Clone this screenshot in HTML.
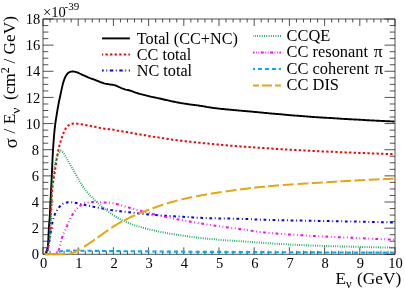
<!DOCTYPE html>
<html><head><meta charset="utf-8"><title>plot</title>
<style>html,body{margin:0;padding:0;background:#fff}svg{display:block;will-change:transform}text{font-family:"Liberation Serif",serif;fill:#000}</style></head><body>
<svg width="405" height="289" viewBox="0 0 405 289">
<rect width="405" height="289" fill="#fff"/>
<clipPath id="c"><rect x="43.0" y="19.0" width="352.0" height="236.5"/></clipPath>
<path d="M43.0,19.0 H395.0 V254.3 H43.0 Z M43.00,254.3 v-7.0 M43.00,19.0 v7.0 M50.04,254.3 v-3.5 M50.04,19.0 v3.5 M57.08,254.3 v-3.5 M57.08,19.0 v3.5 M64.12,254.3 v-3.5 M64.12,19.0 v3.5 M71.16,254.3 v-3.5 M71.16,19.0 v3.5 M78.20,254.3 v-7.0 M78.20,19.0 v7.0 M85.24,254.3 v-3.5 M85.24,19.0 v3.5 M92.28,254.3 v-3.5 M92.28,19.0 v3.5 M99.32,254.3 v-3.5 M99.32,19.0 v3.5 M106.36,254.3 v-3.5 M106.36,19.0 v3.5 M113.40,254.3 v-7.0 M113.40,19.0 v7.0 M120.44,254.3 v-3.5 M120.44,19.0 v3.5 M127.48,254.3 v-3.5 M127.48,19.0 v3.5 M134.52,254.3 v-3.5 M134.52,19.0 v3.5 M141.56,254.3 v-3.5 M141.56,19.0 v3.5 M148.60,254.3 v-7.0 M148.60,19.0 v7.0 M155.64,254.3 v-3.5 M155.64,19.0 v3.5 M162.68,254.3 v-3.5 M162.68,19.0 v3.5 M169.72,254.3 v-3.5 M169.72,19.0 v3.5 M176.76,254.3 v-3.5 M176.76,19.0 v3.5 M183.80,254.3 v-7.0 M183.80,19.0 v7.0 M190.84,254.3 v-3.5 M190.84,19.0 v3.5 M197.88,254.3 v-3.5 M197.88,19.0 v3.5 M204.92,254.3 v-3.5 M204.92,19.0 v3.5 M211.96,254.3 v-3.5 M211.96,19.0 v3.5 M219.00,254.3 v-7.0 M219.00,19.0 v7.0 M226.04,254.3 v-3.5 M226.04,19.0 v3.5 M233.08,254.3 v-3.5 M233.08,19.0 v3.5 M240.12,254.3 v-3.5 M240.12,19.0 v3.5 M247.16,254.3 v-3.5 M247.16,19.0 v3.5 M254.20,254.3 v-7.0 M254.20,19.0 v7.0 M261.24,254.3 v-3.5 M261.24,19.0 v3.5 M268.28,254.3 v-3.5 M268.28,19.0 v3.5 M275.32,254.3 v-3.5 M275.32,19.0 v3.5 M282.36,254.3 v-3.5 M282.36,19.0 v3.5 M289.40,254.3 v-7.0 M289.40,19.0 v7.0 M296.44,254.3 v-3.5 M296.44,19.0 v3.5 M303.48,254.3 v-3.5 M303.48,19.0 v3.5 M310.52,254.3 v-3.5 M310.52,19.0 v3.5 M317.56,254.3 v-3.5 M317.56,19.0 v3.5 M324.60,254.3 v-7.0 M324.60,19.0 v7.0 M331.64,254.3 v-3.5 M331.64,19.0 v3.5 M338.68,254.3 v-3.5 M338.68,19.0 v3.5 M345.72,254.3 v-3.5 M345.72,19.0 v3.5 M352.76,254.3 v-3.5 M352.76,19.0 v3.5 M359.80,254.3 v-7.0 M359.80,19.0 v7.0 M366.84,254.3 v-3.5 M366.84,19.0 v3.5 M373.88,254.3 v-3.5 M373.88,19.0 v3.5 M380.92,254.3 v-3.5 M380.92,19.0 v3.5 M387.96,254.3 v-3.5 M387.96,19.0 v3.5 M395.00,254.3 v-7.0 M395.00,19.0 v7.0 M43.0,254.30 h10.5 M395.0,254.30 h-10.5 M43.0,247.76 h5.3 M395.0,247.76 h-5.3 M43.0,241.23 h5.3 M395.0,241.23 h-5.3 M43.0,234.69 h5.3 M395.0,234.69 h-5.3 M43.0,228.16 h10.5 M395.0,228.16 h-10.5 M43.0,221.62 h5.3 M395.0,221.62 h-5.3 M43.0,215.08 h5.3 M395.0,215.08 h-5.3 M43.0,208.55 h5.3 M395.0,208.55 h-5.3 M43.0,202.01 h10.5 M395.0,202.01 h-10.5 M43.0,195.47 h5.3 M395.0,195.47 h-5.3 M43.0,188.94 h5.3 M395.0,188.94 h-5.3 M43.0,182.40 h5.3 M395.0,182.40 h-5.3 M43.0,175.87 h10.5 M395.0,175.87 h-10.5 M43.0,169.33 h5.3 M395.0,169.33 h-5.3 M43.0,162.79 h5.3 M395.0,162.79 h-5.3 M43.0,156.26 h5.3 M395.0,156.26 h-5.3 M43.0,149.72 h10.5 M395.0,149.72 h-10.5 M43.0,143.19 h5.3 M395.0,143.19 h-5.3 M43.0,136.65 h5.3 M395.0,136.65 h-5.3 M43.0,130.11 h5.3 M395.0,130.11 h-5.3 M43.0,123.58 h10.5 M395.0,123.58 h-10.5 M43.0,117.04 h5.3 M395.0,117.04 h-5.3 M43.0,110.51 h5.3 M395.0,110.51 h-5.3 M43.0,103.97 h5.3 M395.0,103.97 h-5.3 M43.0,97.43 h10.5 M395.0,97.43 h-10.5 M43.0,90.90 h5.3 M395.0,90.90 h-5.3 M43.0,84.36 h5.3 M395.0,84.36 h-5.3 M43.0,77.82 h5.3 M395.0,77.82 h-5.3 M43.0,71.29 h10.5 M395.0,71.29 h-10.5 M43.0,64.75 h5.3 M395.0,64.75 h-5.3 M43.0,58.22 h5.3 M395.0,58.22 h-5.3 M43.0,51.68 h5.3 M395.0,51.68 h-5.3 M43.0,45.14 h10.5 M395.0,45.14 h-10.5 M43.0,38.61 h5.3 M395.0,38.61 h-5.3 M43.0,32.07 h5.3 M395.0,32.07 h-5.3 M43.0,25.54 h5.3 M395.0,25.54 h-5.3 M43.0,19.00 h10.5 M395.0,19.00 h-10.5" fill="none" stroke="#1a1a1a" stroke-width="0.75"/>
<g clip-path="url(#c)" fill="none" stroke-linecap="butt" stroke-linejoin="round">
<path d="M45.30,254.30 L45.72,253.35 L46.11,252.39 L46.46,251.42 L46.78,250.43 L47.10,249.44 L47.40,248.44 L47.66,247.43 L47.85,246.42 L47.96,245.41 L48.05,244.38 L48.13,243.35 L48.19,242.32 L48.25,241.29 L48.30,240.25 L48.35,239.21 L48.39,238.17 L48.44,237.13 L48.49,236.10 L48.55,235.06 L48.60,234.03 L48.65,232.99 L48.70,231.96 L48.74,230.92 L48.79,229.89 L48.84,228.86 L48.90,227.82 L48.95,226.79 L49.02,225.76 L49.09,224.72 L49.17,223.69 L49.25,222.66 L49.35,221.63 L49.44,220.60 L49.53,219.56 L49.62,218.53 L49.70,217.50 L49.77,216.47 L49.83,215.43 L49.89,214.40 L49.95,213.37 L50.00,212.33 L50.05,211.30 L50.09,210.27 L50.14,209.23 L50.18,208.20 L50.23,207.16 L50.27,206.13 L50.31,205.09 L50.36,204.06 L50.40,203.02 L50.45,201.99 L50.50,200.96 L50.55,199.92 L50.61,198.89 L50.66,197.85 L50.72,196.82 L50.77,195.79 L50.83,194.75 L50.88,193.72 L50.94,192.68 L51.00,191.65 L51.05,190.62 L51.11,189.58 L51.17,188.55 L51.22,187.52 L51.28,186.48 L51.33,185.45 L51.38,184.41 L51.43,183.38 L51.49,182.35 L51.54,181.31 L51.59,180.28 L51.64,179.24 L51.69,178.21 L51.74,177.18 L51.78,176.14 L51.83,175.11 L51.87,174.07 L51.92,173.04 L51.96,172.00 L52.00,170.97 L52.05,169.93 L52.09,168.90 L52.13,167.87 L52.17,166.83 L52.21,165.80 L52.26,164.76 L52.30,163.73 L52.34,162.69 L52.39,161.66 L52.44,160.62 L52.49,159.59 L52.54,158.56 L52.59,157.52 L52.64,156.49 L52.70,155.46 L52.75,154.42 L52.81,153.39 L52.87,152.35 L52.93,151.32 L53.00,150.29 L53.06,149.25 L53.12,148.22 L53.19,147.19 L53.26,146.15 L53.33,145.12 L53.40,144.09 L53.47,143.05 L53.55,142.02 L53.63,140.99 L53.70,139.96 L53.78,138.93 L53.86,137.89 L53.95,136.86 L54.04,135.83 L54.12,134.80 L54.22,133.77 L54.31,132.73 L54.41,131.70 L54.51,130.67 L54.61,129.64 L54.72,128.61 L54.83,127.58 L54.95,126.56 L55.07,125.53 L55.20,124.50 L55.33,123.48 L55.47,122.45 L55.62,121.43 L55.78,120.40 L55.94,119.38 L56.10,118.36 L56.26,117.33 L56.43,116.31 L56.59,115.29 L56.76,114.27 L56.92,113.24 L57.09,112.22 L57.26,111.20 L57.43,110.18 L57.60,109.16 L57.78,108.14 L57.95,107.12 L58.14,106.10 L58.32,105.08 L58.51,104.06 L58.70,103.04 L58.89,102.03 L59.10,101.01 L59.31,100.00 L59.53,98.99 L59.75,97.97 L59.97,96.96 L60.19,95.95 L60.41,94.94 L60.63,93.93 L60.85,92.92 L61.06,91.90 L61.28,90.89 L61.50,89.88 L61.73,88.87 L61.96,87.86 L62.18,86.85 L62.41,85.84 L62.66,84.83 L62.91,83.83 L63.19,82.83 L63.48,81.84 L63.79,80.85 L64.13,79.87 L64.49,78.90 L64.88,77.94 L65.31,76.99 L65.77,76.07 L66.30,75.17 L66.88,74.32 L67.55,73.52 L68.30,72.82 L69.18,72.26 L70.13,71.83 L71.13,71.59 L72.16,71.51 L73.20,71.54 L74.22,71.67 L75.24,71.85 L76.25,72.11 L77.24,72.41 L78.19,72.80 L79.12,73.27 L80.05,73.73 L80.99,74.16 L81.93,74.60 L82.87,75.04 L83.81,75.47 L84.75,75.90 L85.70,76.32 L86.65,76.74 L87.60,77.15 L88.55,77.56 L89.51,77.95 L90.47,78.33 L91.44,78.68 L92.42,79.01 L93.41,79.34 L94.39,79.67 L95.37,80.01 L96.33,80.39 L97.28,80.79 L98.24,81.20 L99.19,81.61 L100.15,82.00 L101.12,82.35 L102.10,82.69 L103.08,83.03 L104.07,83.34 L105.07,83.61 L106.08,83.84 L107.09,84.02 L108.11,84.18 L109.14,84.32 L110.17,84.46 L111.20,84.62 L112.22,84.76 L113.25,84.92 L114.26,85.11 L115.25,85.40 L116.22,85.76 L117.18,86.17 L118.13,86.59 L119.08,87.01 L120.01,87.46 L120.96,87.88 L121.92,88.27 L122.89,88.63 L123.86,88.98 L124.85,89.30 L125.84,89.58 L126.85,89.82 L127.87,90.04 L128.88,90.26 L129.88,90.51 L130.87,90.80 L131.85,91.14 L132.81,91.52 L133.77,91.92 L134.74,92.29 L135.71,92.64 L136.70,92.95 L137.69,93.25 L138.69,93.54 L139.68,93.82 L140.68,94.10 L141.68,94.36 L142.69,94.61 L143.69,94.86 L144.70,95.10 L145.70,95.35 L146.71,95.60 L147.71,95.86 L148.71,96.12 L149.72,96.37 L150.72,96.61 L151.73,96.84 L152.74,97.06 L153.76,97.27 L154.77,97.48 L155.79,97.69 L156.80,97.91 L157.81,98.12 L158.83,98.33 L159.84,98.55 L160.85,98.77 L161.86,98.99 L162.87,99.23 L163.88,99.47 L164.88,99.71 L165.89,99.96 L166.90,100.20 L167.90,100.44 L168.91,100.67 L169.92,100.90 L170.93,101.11 L171.95,101.33 L172.96,101.53 L173.98,101.74 L174.99,101.94 L176.01,102.14 L177.03,102.34 L178.04,102.53 L179.06,102.71 L180.08,102.89 L181.10,103.07 L182.12,103.24 L183.14,103.41 L184.17,103.57 L185.19,103.73 L186.21,103.89 L187.24,104.04 L188.26,104.19 L189.29,104.34 L190.31,104.49 L191.34,104.63 L192.36,104.77 L193.39,104.91 L194.41,105.04 L195.44,105.17 L196.47,105.29 L197.50,105.42 L198.52,105.56 L199.55,105.69 L200.58,105.84 L201.60,105.99 L202.62,106.16 L203.64,106.33 L204.66,106.51 L205.68,106.70 L206.70,106.88 L207.72,107.07 L208.74,107.24 L209.76,107.40 L210.78,107.56 L211.81,107.70 L212.83,107.84 L213.86,107.98 L214.89,108.11 L215.91,108.24 L216.94,108.37 L217.97,108.49 L219.00,108.61 L220.03,108.73 L221.06,108.84 L222.09,108.95 L223.12,109.05 L224.15,109.15 L225.18,109.25 L226.21,109.35 L227.24,109.44 L228.27,109.54 L229.30,109.63 L230.33,109.73 L231.36,109.82 L232.39,109.92 L233.43,110.02 L234.46,110.11 L235.49,110.21 L236.52,110.30 L237.55,110.39 L238.58,110.49 L239.61,110.58 L240.64,110.67 L241.67,110.76 L242.71,110.85 L243.74,110.93 L244.77,111.02 L245.80,111.11 L246.83,111.19 L247.86,111.28 L248.90,111.37 L249.93,111.46 L250.96,111.55 L251.99,111.65 L253.02,111.75 L254.05,111.84 L255.08,111.95 L256.11,112.05 L257.14,112.15 L258.17,112.25 L259.20,112.35 L260.23,112.45 L261.26,112.55 L262.29,112.66 L263.32,112.76 L264.35,112.86 L265.38,112.96 L266.41,113.06 L267.45,113.16 L268.48,113.26 L269.51,113.36 L270.54,113.45 L271.57,113.54 L272.60,113.63 L273.63,113.71 L274.66,113.79 L275.70,113.87 L276.73,113.95 L277.76,114.03 L278.79,114.12 L279.83,114.20 L280.86,114.29 L281.89,114.38 L282.92,114.48 L283.95,114.58 L284.98,114.68 L286.01,114.78 L287.04,114.89 L288.07,114.99 L289.10,115.08 L290.13,115.18 L291.16,115.26 L292.20,115.35 L293.23,115.43 L294.26,115.51 L295.29,115.59 L296.32,115.67 L297.36,115.75 L298.39,115.82 L299.42,115.90 L300.45,115.98 L301.49,116.06 L302.52,116.14 L303.55,116.22 L304.58,116.30 L305.62,116.38 L306.65,116.46 L307.68,116.54 L308.71,116.62 L309.74,116.70 L310.78,116.78 L311.81,116.85 L312.84,116.93 L313.87,117.01 L314.91,117.08 L315.94,117.16 L316.97,117.23 L318.00,117.30 L319.04,117.37 L320.07,117.44 L321.10,117.51 L322.14,117.57 L323.17,117.62 L324.21,117.68 L325.24,117.73 L326.27,117.78 L327.31,117.83 L328.34,117.89 L329.38,117.94 L330.41,118.00 L331.44,118.06 L332.48,118.13 L333.51,118.20 L334.54,118.27 L335.57,118.35 L336.61,118.42 L337.64,118.49 L338.67,118.57 L339.70,118.64 L340.74,118.70 L341.77,118.77 L342.80,118.83 L343.84,118.89 L344.87,118.95 L345.91,119.01 L346.94,119.07 L347.97,119.13 L349.01,119.19 L350.04,119.24 L351.07,119.30 L352.11,119.35 L353.14,119.40 L354.18,119.46 L355.21,119.50 L356.24,119.55 L357.28,119.61 L358.31,119.66 L359.35,119.71 L360.38,119.77 L361.41,119.84 L362.45,119.90 L363.48,119.98 L364.51,120.05 L365.54,120.12 L366.58,120.19 L367.61,120.25 L368.64,120.31 L369.68,120.37 L370.71,120.42 L371.75,120.47 L372.78,120.52 L373.81,120.57 L374.85,120.62 L375.88,120.67 L376.92,120.72 L377.95,120.76 L378.99,120.81 L380.02,120.86 L381.05,120.92 L382.09,120.97 L383.12,121.02 L384.16,121.07 L385.19,121.12 L386.22,121.17 L387.26,121.22 L388.29,121.27 L389.33,121.31 L390.36,121.35 L391.40,121.39 L392.43,121.43 L393.47,121.46 L394.50,121.50" stroke="#000000" stroke-width="1.9"/>
<path d="M45.80,254.30 L46.22,253.47 L46.61,252.63 L46.96,251.77 L47.27,250.91 L47.52,250.03 L47.75,249.14 L47.96,248.23 L48.15,247.33 L48.32,246.42 L48.49,245.51 L48.65,244.60 L48.81,243.69 L48.96,242.78 L49.10,241.87 L49.24,240.95 L49.36,240.04 L49.48,239.12 L49.58,238.20 L49.67,237.29 L49.75,236.37 L49.83,235.45 L49.90,234.53 L49.97,233.61 L50.04,232.69 L50.10,231.76 L50.15,230.84 L50.20,229.92 L50.25,229.00 L50.30,228.08 L50.34,227.16 L50.38,226.23 L50.42,225.31 L50.46,224.39 L50.50,223.47 L50.53,222.54 L50.57,221.62 L50.60,220.70 L50.64,219.78 L50.67,218.85 L50.71,217.93 L50.75,217.01 L50.80,216.09 L50.84,215.16 L50.89,214.24 L50.94,213.32 L50.99,212.40 L51.04,211.48 L51.09,210.56 L51.14,209.63 L51.19,208.71 L51.25,207.79 L51.30,206.87 L51.35,205.95 L51.40,205.03 L51.45,204.10 L51.49,203.18 L51.54,202.26 L51.58,201.34 L51.62,200.41 L51.66,199.49 L51.70,198.57 L51.75,197.64 L51.79,196.72 L51.84,195.80 L51.88,194.88 L51.94,193.96 L51.99,193.03 L52.05,192.11 L52.11,191.19 L52.18,190.28 L52.25,189.36 L52.35,188.44 L52.45,187.52 L52.57,186.61 L52.69,185.69 L52.82,184.78 L52.96,183.86 L53.09,182.95 L53.22,182.03 L53.35,181.12 L53.49,180.21 L53.62,179.29 L53.76,178.38 L53.91,177.47 L54.05,176.56 L54.20,175.65 L54.35,174.74 L54.50,173.83 L54.64,172.91 L54.79,172.00 L54.94,171.09 L55.08,170.18 L55.22,169.27 L55.36,168.35 L55.49,167.44 L55.62,166.53 L55.75,165.61 L55.88,164.70 L56.01,163.78 L56.14,162.87 L56.27,161.96 L56.41,161.04 L56.55,160.13 L56.69,159.22 L56.83,158.31 L56.98,157.40 L57.14,156.49 L57.30,155.58 L57.47,154.67 L57.64,153.76 L57.81,152.85 L57.99,151.95 L58.17,151.04 L58.36,150.14 L58.56,149.24 L58.76,148.34 L58.97,147.44 L59.19,146.54 L59.42,145.65 L59.66,144.76 L59.90,143.87 L60.14,142.97 L60.39,142.08 L60.64,141.19 L60.89,140.31 L61.16,139.43 L61.45,138.55 L61.76,137.68 L62.08,136.81 L62.41,135.95 L62.72,135.07 L63.04,134.20 L63.36,133.32 L63.69,132.46 L64.04,131.61 L64.42,130.77 L64.82,129.96 L65.27,129.15 L65.76,128.34 L66.30,127.56 L66.87,126.84 L67.50,126.21 L68.20,125.61 L68.98,125.05 L69.80,124.58 L70.63,124.26 L71.50,124.00 L72.41,123.77 L73.34,123.60 L74.27,123.51 L75.18,123.51 L76.09,123.56 L77.01,123.64 L77.93,123.75 L78.85,123.88 L79.77,124.03 L80.68,124.18 L81.60,124.32 L82.51,124.46 L83.42,124.62 L84.33,124.79 L85.23,124.97 L86.14,125.15 L87.05,125.32 L87.95,125.49 L88.86,125.66 L89.77,125.83 L90.68,126.00 L91.59,126.16 L92.49,126.33 L93.40,126.49 L94.31,126.66 L95.21,126.84 L96.12,127.04 L97.01,127.26 L97.91,127.47 L98.81,127.67 L99.72,127.86 L100.62,128.05 L101.53,128.23 L102.43,128.40 L103.35,128.55 L104.26,128.68 L105.17,128.79 L106.09,128.90 L107.01,129.00 L107.93,129.09 L108.85,129.18 L109.77,129.25 L110.69,129.32 L111.61,129.40 L112.52,129.50 L113.43,129.66 L114.33,129.88 L115.22,130.12 L116.12,130.35 L117.02,130.54 L117.93,130.70 L118.84,130.85 L119.75,131.00 L120.67,131.13 L121.58,131.27 L122.49,131.40 L123.41,131.52 L124.32,131.64 L125.24,131.77 L126.15,131.92 L127.06,132.08 L127.97,132.24 L128.88,132.41 L129.78,132.58 L130.69,132.76 L131.59,132.94 L132.50,133.13 L133.40,133.32 L134.30,133.50 L135.21,133.67 L136.12,133.83 L137.03,133.99 L137.94,134.14 L138.85,134.29 L139.76,134.44 L140.68,134.58 L141.59,134.72 L142.50,134.87 L143.41,135.02 L144.32,135.18 L145.23,135.34 L146.14,135.50 L147.05,135.67 L147.95,135.83 L148.86,135.99 L149.77,136.15 L150.68,136.32 L151.59,136.47 L152.50,136.62 L153.42,136.75 L154.33,136.87 L155.25,136.99 L156.16,137.11 L157.08,137.24 L157.99,137.38 L158.90,137.52 L159.81,137.66 L160.72,137.81 L161.64,137.95 L162.55,138.11 L163.46,138.26 L164.37,138.42 L165.28,138.57 L166.19,138.72 L167.10,138.86 L168.01,139.00 L168.93,139.13 L169.84,139.26 L170.75,139.39 L171.67,139.52 L172.58,139.64 L173.50,139.77 L174.41,139.89 L175.33,140.01 L176.24,140.13 L177.16,140.25 L178.07,140.36 L178.99,140.48 L179.91,140.59 L180.82,140.70 L181.74,140.81 L182.66,140.92 L183.57,141.03 L184.49,141.14 L185.41,141.25 L186.32,141.35 L187.24,141.45 L188.16,141.56 L189.08,141.66 L189.99,141.76 L190.91,141.86 L191.83,141.96 L192.75,142.05 L193.67,142.15 L194.58,142.25 L195.50,142.34 L196.42,142.43 L197.34,142.53 L198.26,142.62 L199.17,142.72 L200.09,142.81 L201.01,142.90 L201.93,142.99 L202.85,143.09 L203.77,143.18 L204.69,143.27 L205.60,143.36 L206.52,143.45 L207.44,143.53 L208.36,143.62 L209.28,143.71 L210.20,143.80 L211.12,143.88 L212.04,143.97 L212.96,144.05 L213.88,144.14 L214.80,144.23 L215.71,144.31 L216.63,144.39 L217.55,144.48 L218.47,144.56 L219.39,144.65 L220.31,144.73 L221.23,144.81 L222.15,144.90 L223.07,144.98 L223.99,145.06 L224.91,145.15 L225.83,145.23 L226.75,145.31 L227.67,145.39 L228.59,145.47 L229.51,145.55 L230.43,145.63 L231.35,145.70 L232.27,145.78 L233.19,145.85 L234.11,145.93 L235.03,146.00 L235.95,146.07 L236.87,146.15 L237.79,146.22 L238.71,146.29 L239.63,146.36 L240.55,146.43 L241.47,146.50 L242.39,146.57 L243.31,146.64 L244.23,146.71 L245.15,146.77 L246.07,146.84 L246.99,146.91 L247.91,146.98 L248.83,147.04 L249.75,147.11 L250.67,147.17 L251.60,147.24 L252.52,147.30 L253.44,147.37 L254.36,147.43 L255.28,147.50 L256.20,147.56 L257.12,147.62 L258.04,147.69 L258.96,147.75 L259.88,147.81 L260.81,147.87 L261.73,147.93 L262.65,148.00 L263.57,148.06 L264.49,148.12 L265.41,148.18 L266.33,148.24 L267.25,148.30 L268.17,148.36 L269.10,148.42 L270.02,148.47 L270.94,148.53 L271.86,148.59 L272.78,148.65 L273.70,148.71 L274.62,148.77 L275.54,148.82 L276.47,148.88 L277.39,148.94 L278.31,148.99 L279.23,149.05 L280.15,149.11 L281.07,149.16 L281.99,149.22 L282.92,149.28 L283.84,149.33 L284.76,149.39 L285.68,149.44 L286.60,149.50 L287.52,149.55 L288.44,149.61 L289.37,149.66 L290.29,149.72 L291.21,149.77 L292.13,149.82 L293.05,149.88 L293.97,149.93 L294.90,149.98 L295.82,150.04 L296.74,150.09 L297.66,150.14 L298.58,150.19 L299.50,150.24 L300.43,150.29 L301.35,150.34 L302.27,150.39 L303.19,150.44 L304.11,150.49 L305.03,150.54 L305.96,150.59 L306.88,150.64 L307.80,150.69 L308.72,150.73 L309.64,150.78 L310.57,150.83 L311.49,150.88 L312.41,150.92 L313.33,150.97 L314.25,151.01 L315.18,151.06 L316.10,151.10 L317.02,151.15 L317.94,151.19 L318.86,151.23 L319.79,151.28 L320.71,151.32 L321.63,151.36 L322.55,151.40 L323.47,151.45 L324.40,151.49 L325.32,151.53 L326.24,151.57 L327.16,151.61 L328.08,151.65 L329.01,151.69 L329.93,151.73 L330.85,151.77 L331.77,151.81 L332.70,151.85 L333.62,151.89 L334.54,151.93 L335.46,151.97 L336.39,152.01 L337.31,152.05 L338.23,152.09 L339.15,152.12 L340.07,152.16 L341.00,152.20 L341.92,152.24 L342.84,152.28 L343.76,152.31 L344.69,152.35 L345.61,152.39 L346.53,152.42 L347.45,152.46 L348.38,152.50 L349.30,152.54 L350.22,152.57 L351.14,152.61 L352.07,152.64 L352.99,152.68 L353.91,152.72 L354.83,152.75 L355.76,152.79 L356.68,152.83 L357.60,152.86 L358.52,152.90 L359.44,152.93 L360.37,152.97 L361.29,153.01 L362.21,153.04 L363.13,153.08 L364.06,153.11 L364.98,153.15 L365.90,153.18 L366.82,153.22 L367.75,153.25 L368.67,153.29 L369.59,153.32 L370.51,153.35 L371.44,153.39 L372.36,153.42 L373.28,153.46 L374.20,153.49 L375.13,153.52 L376.05,153.56 L376.97,153.59 L377.89,153.62 L378.82,153.66 L379.74,153.69 L380.66,153.72 L381.58,153.76 L382.51,153.79 L383.43,153.82 L384.35,153.85 L385.27,153.89 L386.20,153.92 L387.12,153.95 L388.04,153.98 L388.96,154.01 L389.89,154.04 L390.81,154.08 L391.73,154.11 L392.65,154.14 L393.58,154.17 L394.50,154.20" stroke="#ff0000" stroke-width="2.0" stroke-dasharray="2.3 2.28" stroke-dashoffset="1.52"/>
<path d="M46.20,254.30 L46.44,253.56 L46.66,252.81 L46.88,252.07 L47.08,251.32 L47.27,250.57 L47.44,249.81 L47.59,249.05 L47.73,248.29 L47.86,247.52 L47.99,246.75 L48.12,245.99 L48.26,245.22 L48.41,244.46 L48.57,243.70 L48.74,242.95 L48.91,242.19 L49.09,241.43 L49.26,240.68 L49.42,239.92 L49.58,239.16 L49.74,238.40 L49.90,237.64 L50.05,236.88 L50.20,236.11 L50.34,235.35 L50.47,234.58 L50.58,233.82 L50.69,233.05 L50.79,232.28 L50.88,231.51 L50.98,230.73 L51.07,229.96 L51.17,229.19 L51.28,228.42 L51.39,227.66 L51.52,226.89 L51.66,226.13 L51.81,225.37 L51.97,224.61 L52.14,223.85 L52.31,223.09 L52.50,222.34 L52.69,221.58 L52.88,220.83 L53.08,220.08 L53.28,219.33 L53.48,218.58 L53.70,217.83 L53.92,217.08 L54.15,216.33 L54.40,215.60 L54.66,214.87 L54.94,214.15 L55.25,213.45 L55.59,212.76 L55.98,212.08 L56.38,211.41 L56.79,210.74 L57.20,210.09 L57.61,209.43 L58.04,208.77 L58.49,208.13 L58.95,207.50 L59.43,206.90 L59.93,206.32 L60.46,205.72 L61.01,205.13 L61.59,204.59 L62.19,204.11 L62.82,203.74 L63.50,203.40 L64.22,203.08 L64.97,202.79 L65.74,202.57 L66.51,202.43 L67.27,202.39 L68.03,202.36 L68.81,202.34 L69.59,202.32 L70.38,202.31 L71.16,202.30 L71.93,202.31 L72.70,202.37 L73.47,202.48 L74.24,202.62 L75.01,202.77 L75.77,202.91 L76.53,203.06 L77.28,203.24 L78.04,203.42 L78.79,203.61 L79.55,203.80 L80.30,203.98 L81.06,204.15 L81.82,204.32 L82.58,204.49 L83.33,204.66 L84.09,204.82 L84.85,204.99 L85.61,205.15 L86.37,205.32 L87.13,205.48 L87.89,205.64 L88.65,205.80 L89.41,205.96 L90.17,206.11 L90.93,206.27 L91.69,206.42 L92.45,206.57 L93.21,206.72 L93.97,206.86 L94.74,207.01 L95.50,207.15 L96.26,207.30 L97.03,207.44 L97.79,207.59 L98.55,207.73 L99.31,207.87 L100.08,208.02 L100.84,208.17 L101.60,208.31 L102.36,208.46 L103.13,208.62 L103.89,208.77 L104.65,208.92 L105.41,209.07 L106.17,209.22 L106.94,209.37 L107.70,209.51 L108.46,209.65 L109.23,209.78 L109.99,209.90 L110.76,210.02 L111.53,210.13 L112.30,210.24 L113.07,210.35 L113.83,210.45 L114.61,210.55 L115.38,210.65 L116.15,210.74 L116.92,210.84 L117.69,210.94 L118.46,211.04 L119.23,211.14 L120.01,211.23 L120.78,211.32 L121.55,211.41 L122.32,211.49 L123.10,211.58 L123.87,211.66 L124.65,211.74 L125.42,211.83 L126.19,211.91 L126.97,212.00 L127.74,212.08 L128.51,212.17 L129.29,212.25 L130.06,212.34 L130.84,212.43 L131.61,212.52 L132.38,212.61 L133.16,212.70 L133.93,212.80 L134.70,212.90 L135.47,212.99 L136.25,213.09 L137.02,213.19 L137.79,213.30 L138.56,213.40 L139.33,213.50 L140.11,213.60 L140.88,213.68 L141.65,213.76 L142.42,213.84 L143.19,213.92 L143.97,214.00 L144.74,214.08 L145.51,214.16 L146.28,214.24 L147.06,214.31 L147.83,214.39 L148.60,214.46 L149.37,214.53 L150.15,214.60 L150.92,214.66 L151.69,214.73 L152.47,214.79 L153.24,214.86 L154.01,214.92 L154.79,214.98 L155.56,215.04 L156.33,215.11 L157.11,215.17 L157.88,215.23 L158.66,215.29 L159.43,215.34 L160.21,215.40 L160.98,215.46 L161.75,215.51 L162.53,215.57 L163.30,215.62 L164.08,215.68 L164.85,215.73 L165.63,215.78 L166.40,215.84 L167.17,215.89 L167.95,215.94 L168.72,215.99 L169.50,216.03 L170.27,216.08 L171.05,216.13 L171.82,216.17 L172.60,216.22 L173.37,216.26 L174.15,216.31 L174.92,216.35 L175.70,216.40 L176.47,216.44 L177.25,216.48 L178.02,216.53 L178.80,216.57 L179.57,216.61 L180.35,216.66 L181.12,216.70 L181.90,216.75 L182.67,216.79 L183.45,216.84 L184.22,216.88 L185.00,216.93 L185.77,216.98 L186.55,217.02 L187.32,217.07 L188.10,217.12 L188.87,217.17 L189.65,217.21 L190.42,217.26 L191.20,217.31 L191.97,217.36 L192.75,217.40 L193.52,217.45 L194.30,217.49 L195.07,217.54 L195.85,217.58 L196.62,217.63 L197.40,217.67 L198.17,217.71 L198.95,217.75 L199.72,217.79 L200.50,217.82 L201.27,217.85 L202.05,217.88 L202.82,217.91 L203.60,217.94 L204.37,217.97 L205.15,217.99 L205.92,218.02 L206.70,218.05 L207.48,218.07 L208.25,218.10 L209.03,218.12 L209.80,218.15 L210.58,218.17 L211.35,218.19 L212.13,218.22 L212.91,218.24 L213.68,218.26 L214.46,218.29 L215.23,218.31 L216.01,218.33 L216.79,218.35 L217.56,218.37 L218.34,218.39 L219.11,218.41 L219.89,218.43 L220.66,218.45 L221.44,218.47 L222.22,218.49 L222.99,218.50 L223.77,218.51 L224.54,218.52 L225.32,218.53 L226.10,218.54 L226.87,218.56 L227.65,218.57 L228.42,218.58 L229.20,218.59 L229.98,218.60 L230.75,218.61 L231.53,218.62 L232.30,218.64 L233.08,218.65 L233.86,218.66 L234.63,218.68 L235.41,218.69 L236.18,218.71 L236.96,218.72 L237.73,218.74 L238.51,218.75 L239.29,218.77 L240.06,218.79 L240.84,218.82 L241.61,218.85 L242.39,218.88 L243.16,218.91 L243.94,218.94 L244.72,218.98 L245.49,219.01 L246.27,219.04 L247.04,219.07 L247.82,219.10 L248.59,219.14 L249.37,219.17 L250.15,219.20 L250.92,219.24 L251.70,219.27 L252.47,219.30 L253.25,219.33 L254.02,219.36 L254.80,219.40 L255.58,219.43 L256.35,219.46 L257.13,219.49 L257.90,219.52 L258.68,219.55 L259.45,219.58 L260.23,219.61 L261.01,219.64 L261.78,219.67 L262.56,219.70 L263.33,219.73 L264.11,219.76 L264.88,219.78 L265.66,219.81 L266.44,219.84 L267.21,219.86 L267.99,219.89 L268.76,219.91 L269.54,219.93 L270.32,219.95 L271.09,219.98 L271.87,220.00 L272.64,220.02 L273.42,220.04 L274.20,220.05 L274.97,220.07 L275.75,220.09 L276.52,220.11 L277.30,220.13 L278.08,220.14 L278.85,220.16 L279.63,220.18 L280.40,220.19 L281.18,220.21 L281.96,220.23 L282.73,220.24 L283.51,220.26 L284.28,220.27 L285.06,220.29 L285.84,220.30 L286.61,220.32 L287.39,220.33 L288.17,220.35 L288.94,220.36 L289.72,220.38 L290.49,220.39 L291.27,220.40 L292.05,220.42 L292.82,220.43 L293.60,220.44 L294.38,220.46 L295.15,220.47 L295.93,220.48 L296.70,220.50 L297.48,220.51 L298.26,220.52 L299.03,220.54 L299.81,220.55 L300.59,220.56 L301.36,220.58 L302.14,220.59 L302.91,220.60 L303.69,220.62 L304.47,220.63 L305.24,220.64 L306.02,220.66 L306.80,220.67 L307.57,220.68 L308.35,220.70 L309.12,220.71 L309.90,220.72 L310.68,220.74 L311.45,220.75 L312.23,220.77 L313.00,220.78 L313.78,220.80 L314.56,220.81 L315.33,220.83 L316.11,220.84 L316.89,220.85 L317.66,220.87 L318.44,220.88 L319.21,220.90 L319.99,220.91 L320.77,220.93 L321.54,220.94 L322.32,220.96 L323.10,220.97 L323.87,220.98 L324.65,221.00 L325.42,221.01 L326.20,221.03 L326.98,221.04 L327.75,221.06 L328.53,221.07 L329.30,221.08 L330.08,221.10 L330.86,221.11 L331.63,221.13 L332.41,221.14 L333.19,221.16 L333.96,221.17 L334.74,221.18 L335.51,221.20 L336.29,221.21 L337.07,221.23 L337.84,221.24 L338.62,221.26 L339.40,221.27 L340.17,221.29 L340.95,221.30 L341.72,221.32 L342.50,221.33 L343.28,221.35 L344.05,221.36 L344.83,221.38 L345.60,221.39 L346.38,221.41 L347.16,221.42 L347.93,221.44 L348.71,221.45 L349.49,221.47 L350.26,221.48 L351.04,221.50 L351.81,221.51 L352.59,221.53 L353.37,221.55 L354.14,221.56 L354.92,221.58 L355.69,221.59 L356.47,221.61 L357.25,221.63 L358.02,221.64 L358.80,221.66 L359.58,221.68 L360.35,221.69 L361.13,221.71 L361.90,221.73 L362.68,221.74 L363.46,221.76 L364.23,221.78 L365.01,221.79 L365.78,221.81 L366.56,221.83 L367.34,221.85 L368.11,221.86 L368.89,221.88 L369.67,221.90 L370.44,221.92 L371.22,221.94 L371.99,221.95 L372.77,221.97 L373.55,221.99 L374.32,222.01 L375.10,222.03 L375.87,222.04 L376.65,222.06 L377.43,222.08 L378.20,222.10 L378.98,222.12 L379.75,222.14 L380.53,222.15 L381.31,222.17 L382.08,222.19 L382.86,222.21 L383.63,222.23 L384.41,222.25 L385.19,222.27 L385.96,222.29 L386.74,222.31 L387.52,222.32 L388.29,222.34 L389.07,222.36 L389.84,222.38 L390.62,222.40 L391.40,222.42 L392.17,222.44 L392.95,222.46 L393.72,222.48 L394.50,222.50" stroke="#0000ff" stroke-width="2.0" stroke-dasharray="2.7 2.72 0.9 2.72" stroke-dashoffset="5.61"/>
<path d="M46.00,254.30 L46.43,253.44 L46.84,252.57 L47.20,251.69 L47.50,250.79 L47.76,249.88 L47.99,248.96 L48.20,248.02 L48.39,247.09 L48.57,246.15 L48.74,245.21 L48.91,244.27 L49.07,243.33 L49.22,242.39 L49.37,241.44 L49.50,240.50 L49.63,239.55 L49.74,238.61 L49.83,237.66 L49.92,236.71 L50.01,235.76 L50.08,234.81 L50.15,233.86 L50.22,232.91 L50.28,231.95 L50.34,231.00 L50.40,230.05 L50.45,229.10 L50.50,228.15 L50.55,227.19 L50.59,226.24 L50.64,225.29 L50.68,224.34 L50.72,223.38 L50.76,222.43 L50.80,221.48 L50.83,220.52 L50.87,219.57 L50.90,218.62 L50.94,217.67 L50.97,216.71 L51.01,215.76 L51.04,214.81 L51.07,213.85 L51.10,212.90 L51.13,211.95 L51.16,210.99 L51.19,210.04 L51.22,209.09 L51.24,208.13 L51.27,207.18 L51.30,206.23 L51.33,205.27 L51.36,204.32 L51.38,203.37 L51.42,202.42 L51.45,201.46 L51.48,200.51 L51.52,199.56 L51.55,198.60 L51.59,197.65 L51.62,196.70 L51.66,195.74 L51.69,194.79 L51.73,193.83 L51.77,192.88 L51.81,191.93 L51.86,190.97 L51.90,190.02 L51.95,189.07 L52.00,188.12 L52.05,187.17 L52.11,186.22 L52.17,185.27 L52.24,184.32 L52.33,183.37 L52.42,182.42 L52.53,181.47 L52.64,180.53 L52.77,179.58 L52.90,178.64 L53.04,177.69 L53.18,176.75 L53.32,175.80 L53.46,174.86 L53.61,173.91 L53.75,172.97 L53.88,172.03 L54.02,171.08 L54.15,170.14 L54.29,169.19 L54.43,168.25 L54.58,167.30 L54.73,166.36 L54.89,165.42 L55.05,164.48 L55.23,163.55 L55.42,162.62 L55.61,161.68 L55.82,160.74 L56.04,159.81 L56.28,158.87 L56.54,157.95 L56.82,157.04 L57.12,156.14 L57.45,155.27 L57.84,154.40 L58.30,153.54 L58.81,152.72 L59.37,151.96 L60.01,151.15 L60.75,150.60 L61.54,150.99 L62.28,151.67 L62.93,152.38 L63.51,153.14 L64.06,153.92 L64.58,154.71 L65.07,155.53 L65.55,156.36 L66.01,157.19 L66.48,158.03 L66.95,158.86 L67.41,159.70 L67.86,160.54 L68.31,161.38 L68.76,162.22 L69.21,163.06 L69.67,163.89 L70.14,164.72 L70.62,165.55 L71.11,166.37 L71.60,167.18 L72.10,168.00 L72.59,168.82 L73.08,169.63 L73.57,170.45 L74.07,171.26 L74.56,172.08 L75.04,172.90 L75.51,173.73 L75.98,174.57 L76.43,175.41 L76.88,176.25 L77.34,177.09 L77.79,177.92 L78.25,178.76 L78.71,179.60 L79.17,180.44 L79.62,181.27 L80.09,182.11 L80.56,182.94 L81.04,183.76 L81.54,184.57 L82.06,185.36 L82.59,186.15 L83.14,186.94 L83.69,187.71 L84.26,188.48 L84.83,189.25 L85.41,190.00 L86.00,190.76 L86.60,191.50 L87.21,192.23 L87.83,192.96 L88.46,193.67 L89.10,194.37 L89.76,195.07 L90.41,195.76 L91.08,196.44 L91.75,197.12 L92.43,197.79 L93.11,198.46 L93.79,199.13 L94.47,199.80 L95.16,200.46 L95.84,201.12 L96.53,201.79 L97.22,202.44 L97.91,203.10 L98.61,203.75 L99.32,204.39 L100.03,205.02 L100.74,205.62 L101.46,206.22 L102.18,206.82 L102.90,207.41 L103.62,208.00 L104.35,208.58 L105.08,209.17 L105.81,209.74 L106.55,210.31 L107.30,210.88 L108.04,211.43 L108.80,211.98 L109.55,212.52 L110.31,213.06 L111.08,213.59 L111.85,214.12 L112.62,214.65 L113.40,215.17 L114.19,215.69 L114.98,216.21 L115.77,216.71 L116.57,217.21 L117.37,217.69 L118.19,218.16 L119.00,218.61 L119.83,219.05 L120.66,219.47 L121.49,219.89 L122.34,220.30 L123.19,220.71 L124.05,221.11 L124.91,221.50 L125.78,221.88 L126.65,222.25 L127.52,222.62 L128.40,222.97 L129.29,223.32 L130.17,223.65 L131.06,223.97 L131.95,224.30 L132.84,224.62 L133.74,224.92 L134.63,225.22 L135.53,225.51 L136.44,225.79 L137.35,226.06 L138.26,226.33 L139.17,226.60 L140.09,226.86 L141.01,227.13 L141.93,227.40 L142.86,227.67 L143.78,227.93 L144.71,228.18 L145.64,228.43 L146.56,228.68 L147.49,228.92 L148.42,229.15 L149.35,229.39 L150.27,229.62 L151.20,229.84 L152.13,230.07 L153.06,230.29 L153.99,230.50 L154.93,230.72 L155.86,230.93 L156.79,231.13 L157.73,231.34 L158.67,231.54 L159.60,231.73 L160.54,231.93 L161.48,232.11 L162.42,232.30 L163.36,232.48 L164.30,232.66 L165.24,232.84 L166.18,233.01 L167.12,233.17 L168.06,233.34 L169.00,233.50 L169.94,233.66 L170.88,233.82 L171.83,233.97 L172.77,234.12 L173.72,234.27 L174.66,234.42 L175.61,234.56 L176.55,234.70 L177.50,234.84 L178.44,234.98 L179.39,235.11 L180.34,235.25 L181.28,235.40 L182.23,235.54 L183.18,235.68 L184.12,235.82 L185.07,235.96 L186.02,236.09 L186.97,236.23 L187.91,236.36 L188.86,236.49 L189.81,236.62 L190.76,236.74 L191.71,236.87 L192.66,236.99 L193.61,237.11 L194.56,237.23 L195.51,237.35 L196.45,237.47 L197.40,237.59 L198.35,237.70 L199.30,237.82 L200.25,237.93 L201.20,238.03 L202.15,238.13 L203.10,238.23 L204.05,238.33 L205.00,238.43 L205.96,238.53 L206.91,238.62 L207.86,238.71 L208.81,238.81 L209.76,238.90 L210.71,238.99 L211.66,239.09 L212.61,239.18 L213.56,239.27 L214.51,239.36 L215.47,239.46 L216.42,239.55 L217.37,239.65 L218.32,239.74 L219.27,239.84 L220.22,239.93 L221.17,240.03 L222.12,240.11 L223.07,240.17 L224.02,240.23 L224.97,240.29 L225.92,240.34 L226.88,240.40 L227.83,240.46 L228.78,240.51 L229.73,240.57 L230.68,240.63 L231.63,240.68 L232.58,240.74 L233.53,240.80 L234.48,240.85 L235.43,240.91 L236.38,240.97 L237.33,241.02 L238.29,241.08 L239.24,241.14 L240.19,241.20 L241.14,241.27 L242.09,241.34 L243.04,241.42 L243.99,241.49 L244.94,241.56 L245.89,241.63 L246.84,241.70 L247.79,241.78 L248.74,241.85 L249.69,241.92 L250.64,241.99 L251.59,242.06 L252.55,242.13 L253.50,242.20 L254.45,242.28 L255.40,242.35 L256.35,242.41 L257.30,242.48 L258.25,242.55 L259.20,242.62 L260.15,242.69 L261.10,242.76 L262.05,242.83 L263.00,242.90 L263.96,242.97 L264.91,243.03 L265.86,243.10 L266.81,243.17 L267.76,243.23 L268.71,243.29 L269.66,243.35 L270.61,243.41 L271.57,243.47 L272.52,243.53 L273.47,243.59 L274.42,243.65 L275.37,243.70 L276.32,243.76 L277.28,243.81 L278.23,243.87 L279.18,243.92 L280.13,243.98 L281.08,244.03 L282.04,244.09 L282.99,244.14 L283.94,244.19 L284.89,244.25 L285.85,244.30 L286.80,244.35 L287.75,244.40 L288.70,244.45 L289.65,244.50 L290.61,244.55 L291.56,244.60 L292.51,244.65 L293.46,244.70 L294.42,244.75 L295.37,244.80 L296.32,244.84 L297.28,244.89 L298.23,244.93 L299.18,244.98 L300.13,245.02 L301.09,245.07 L302.04,245.11 L302.99,245.15 L303.94,245.20 L304.90,245.24 L305.85,245.28 L306.80,245.32 L307.75,245.36 L308.71,245.40 L309.66,245.43 L310.61,245.47 L311.57,245.51 L312.52,245.55 L313.47,245.58 L314.42,245.62 L315.38,245.65 L316.33,245.68 L317.28,245.72 L318.24,245.75 L319.19,245.78 L320.14,245.81 L321.10,245.84 L322.05,245.87 L323.00,245.90 L323.95,245.93 L324.91,245.96 L325.86,245.99 L326.81,246.02 L327.77,246.05 L328.72,246.08 L329.67,246.11 L330.63,246.13 L331.58,246.16 L332.53,246.19 L333.49,246.21 L334.44,246.24 L335.39,246.27 L336.35,246.29 L337.30,246.32 L338.25,246.34 L339.21,246.37 L340.16,246.39 L341.11,246.42 L342.07,246.44 L343.02,246.47 L343.97,246.49 L344.93,246.52 L345.88,246.54 L346.83,246.57 L347.79,246.59 L348.74,246.62 L349.69,246.64 L350.65,246.66 L351.60,246.69 L352.55,246.71 L353.51,246.74 L354.46,246.76 L355.41,246.78 L356.37,246.81 L357.32,246.83 L358.27,246.86 L359.23,246.88 L360.18,246.91 L361.13,246.93 L362.09,246.95 L363.04,246.98 L363.99,247.00 L364.95,247.03 L365.90,247.05 L366.85,247.07 L367.81,247.10 L368.76,247.12 L369.71,247.14 L370.67,247.16 L371.62,247.19 L372.57,247.21 L373.53,247.23 L374.48,247.25 L375.43,247.28 L376.39,247.30 L377.34,247.32 L378.29,247.34 L379.25,247.37 L380.20,247.39 L381.15,247.41 L382.11,247.43 L383.06,247.45 L384.01,247.47 L384.97,247.49 L385.92,247.52 L386.87,247.54 L387.83,247.56 L388.78,247.58 L389.73,247.60 L390.69,247.62 L391.64,247.64 L392.59,247.66 L393.55,247.68 L394.50,247.70" stroke="#009e49" stroke-width="2.0" stroke-dasharray="0.8 1.45" stroke-dashoffset="0.00"/>
<path d="M55.60,254.30 L56.12,253.75 L56.61,253.18 L57.07,252.59 L57.48,251.98 L57.88,251.34 L58.27,250.69 L58.62,250.02 L58.94,249.34 L59.22,248.66 L59.46,247.96 L59.68,247.26 L59.88,246.54 L60.06,245.82 L60.24,245.09 L60.40,244.36 L60.56,243.62 L60.72,242.88 L60.87,242.14 L61.03,241.40 L61.20,240.67 L61.38,239.93 L61.57,239.21 L61.77,238.49 L62.00,237.78 L62.24,237.07 L62.49,236.36 L62.75,235.66 L63.02,234.96 L63.29,234.26 L63.58,233.57 L63.88,232.89 L64.18,232.20 L64.49,231.52 L64.80,230.84 L65.11,230.16 L65.43,229.47 L65.74,228.79 L66.04,228.11 L66.34,227.42 L66.63,226.73 L66.93,226.04 L67.21,225.35 L67.50,224.65 L67.79,223.96 L68.08,223.26 L68.37,222.57 L68.67,221.88 L68.97,221.20 L69.27,220.51 L69.59,219.83 L69.91,219.16 L70.24,218.50 L70.58,217.84 L70.93,217.18 L71.30,216.53 L71.67,215.88 L72.06,215.23 L72.45,214.58 L72.85,213.95 L73.26,213.32 L73.69,212.70 L74.12,212.08 L74.56,211.48 L75.01,210.89 L75.47,210.30 L75.94,209.72 L76.43,209.13 L76.93,208.56 L77.44,208.00 L77.97,207.47 L78.52,206.96 L79.07,206.48 L79.65,206.03 L80.25,205.59 L80.88,205.16 L81.52,204.75 L82.18,204.36 L82.85,204.00 L83.54,203.69 L84.22,203.43 L84.92,203.20 L85.63,202.99 L86.35,202.79 L87.09,202.61 L87.83,202.45 L88.58,202.32 L89.32,202.22 L90.06,202.14 L90.80,202.06 L91.55,201.99 L92.30,201.94 L93.05,201.91 L93.80,201.90 L94.55,201.91 L95.30,201.93 L96.04,201.95 L96.79,201.98 L97.54,202.01 L98.29,202.05 L99.04,202.09 L99.78,202.14 L100.53,202.19 L101.28,202.25 L102.02,202.30 L102.77,202.36 L103.52,202.42 L104.26,202.47 L105.01,202.50 L105.75,202.53 L106.50,202.57 L107.24,202.60 L107.99,202.64 L108.74,202.68 L109.48,202.73 L110.22,202.79 L110.96,202.85 L111.70,202.93 L112.43,203.03 L113.16,203.14 L113.89,203.27 L114.61,203.41 L115.32,203.60 L116.02,203.81 L116.73,204.00 L117.44,204.19 L118.15,204.38 L118.86,204.60 L119.57,204.83 L120.28,205.05 L120.99,205.27 L121.70,205.49 L122.42,205.71 L123.13,205.93 L123.84,206.14 L124.56,206.36 L125.27,206.57 L125.99,206.78 L126.70,206.99 L127.42,207.20 L128.13,207.41 L128.85,207.62 L129.57,207.82 L130.28,208.03 L131.00,208.24 L131.72,208.45 L132.44,208.65 L133.16,208.86 L133.88,209.06 L134.60,209.27 L135.32,209.47 L136.04,209.67 L136.76,209.86 L137.49,210.06 L138.21,210.26 L138.93,210.45 L139.66,210.64 L140.38,210.83 L141.11,211.02 L141.83,211.21 L142.56,211.40 L143.28,211.58 L144.01,211.77 L144.74,211.95 L145.46,212.14 L146.19,212.33 L146.92,212.52 L147.65,212.71 L148.38,212.89 L149.10,213.08 L149.83,213.26 L150.56,213.44 L151.29,213.62 L152.02,213.79 L152.75,213.97 L153.49,214.14 L154.22,214.31 L154.95,214.48 L155.68,214.65 L156.42,214.81 L157.15,214.98 L157.89,215.14 L158.62,215.30 L159.35,215.46 L160.09,215.62 L160.82,215.79 L161.56,215.95 L162.29,216.11 L163.03,216.27 L163.77,216.43 L164.50,216.59 L165.24,216.75 L165.97,216.91 L166.71,217.07 L167.44,217.23 L168.18,217.39 L168.91,217.54 L169.65,217.70 L170.38,217.86 L171.12,218.01 L171.86,218.17 L172.59,218.32 L173.33,218.48 L174.07,218.63 L174.80,218.78 L175.54,218.94 L176.28,219.09 L177.01,219.24 L177.75,219.39 L178.49,219.54 L179.23,219.68 L179.96,219.83 L180.70,219.97 L181.44,220.11 L182.18,220.24 L182.91,220.38 L183.65,220.51 L184.39,220.65 L185.13,220.78 L185.87,220.91 L186.61,221.04 L187.35,221.17 L188.09,221.30 L188.83,221.43 L189.57,221.56 L190.31,221.68 L191.05,221.81 L191.79,221.93 L192.53,222.06 L193.27,222.18 L194.01,222.31 L194.75,222.43 L195.49,222.55 L196.23,222.68 L196.97,222.80 L197.71,222.92 L198.45,223.04 L199.19,223.17 L199.93,223.29 L200.67,223.41 L201.41,223.53 L202.15,223.65 L202.89,223.77 L203.63,223.89 L204.37,224.01 L205.11,224.13 L205.85,224.25 L206.60,224.36 L207.34,224.48 L208.08,224.60 L208.82,224.72 L209.56,224.83 L210.30,224.95 L211.04,225.06 L211.78,225.18 L212.52,225.29 L213.27,225.41 L214.01,225.52 L214.75,225.63 L215.49,225.74 L216.23,225.85 L216.97,225.96 L217.72,226.07 L218.46,226.18 L219.20,226.29 L219.94,226.39 L220.69,226.50 L221.43,226.60 L222.17,226.70 L222.92,226.80 L223.66,226.91 L224.40,227.01 L225.14,227.11 L225.89,227.21 L226.63,227.31 L227.37,227.41 L228.12,227.51 L228.86,227.61 L229.60,227.72 L230.35,227.81 L231.09,227.90 L231.83,227.99 L232.58,228.08 L233.32,228.17 L234.06,228.27 L234.80,228.36 L235.55,228.45 L236.29,228.55 L237.03,228.65 L237.77,228.75 L238.51,228.85 L239.26,228.95 L240.00,229.05 L240.74,229.15 L241.48,229.26 L242.22,229.36 L242.96,229.47 L243.71,229.57 L244.45,229.68 L245.19,229.79 L245.93,229.90 L246.67,230.00 L247.41,230.11 L248.15,230.22 L248.89,230.33 L249.64,230.44 L250.38,230.55 L251.12,230.66 L251.86,230.76 L252.60,230.87 L253.34,230.98 L254.08,231.09 L254.82,231.19 L255.57,231.30 L256.31,231.40 L257.05,231.50 L257.79,231.61 L258.53,231.71 L259.27,231.81 L260.01,231.91 L260.76,232.01 L261.50,232.10 L262.24,232.20 L262.98,232.29 L263.73,232.38 L264.47,232.46 L265.21,232.55 L265.95,232.63 L266.70,232.71 L267.44,232.79 L268.18,232.87 L268.93,232.94 L269.67,233.01 L270.41,233.08 L271.16,233.15 L271.90,233.21 L272.65,233.28 L273.39,233.34 L274.14,233.40 L274.88,233.46 L275.63,233.52 L276.37,233.57 L277.12,233.63 L277.86,233.69 L278.61,233.74 L279.35,233.80 L280.10,233.85 L280.85,233.90 L281.59,233.96 L282.34,234.01 L283.08,234.06 L283.83,234.11 L284.58,234.16 L285.32,234.21 L286.07,234.26 L286.82,234.31 L287.56,234.35 L288.31,234.40 L289.06,234.45 L289.81,234.49 L290.55,234.54 L291.30,234.58 L292.05,234.63 L292.79,234.67 L293.54,234.72 L294.29,234.76 L295.04,234.80 L295.79,234.84 L296.53,234.88 L297.28,234.93 L298.03,234.97 L298.78,235.01 L299.52,235.05 L300.27,235.09 L301.02,235.14 L301.77,235.18 L302.51,235.23 L303.26,235.27 L304.01,235.32 L304.76,235.36 L305.51,235.40 L306.25,235.45 L307.00,235.49 L307.75,235.54 L308.50,235.58 L309.24,235.62 L309.99,235.67 L310.74,235.71 L311.49,235.75 L312.23,235.80 L312.98,235.84 L313.73,235.88 L314.48,235.93 L315.22,235.97 L315.97,236.01 L316.72,236.06 L317.47,236.10 L318.21,236.14 L318.96,236.18 L319.71,236.22 L320.46,236.26 L321.20,236.30 L321.95,236.34 L322.70,236.38 L323.45,236.42 L324.19,236.46 L324.94,236.50 L325.69,236.54 L326.44,236.58 L327.19,236.62 L327.93,236.66 L328.68,236.69 L329.43,236.73 L330.18,236.77 L330.92,236.81 L331.67,236.84 L332.42,236.88 L333.17,236.92 L333.92,236.96 L334.66,236.99 L335.41,237.03 L336.16,237.06 L336.91,237.10 L337.66,237.14 L338.40,237.17 L339.15,237.21 L339.90,237.24 L340.65,237.28 L341.39,237.32 L342.14,237.35 L342.89,237.39 L343.64,237.42 L344.39,237.46 L345.13,237.49 L345.88,237.53 L346.63,237.56 L347.38,237.60 L348.13,237.63 L348.87,237.67 L349.62,237.70 L350.37,237.74 L351.12,237.77 L351.87,237.81 L352.61,237.84 L353.36,237.88 L354.11,237.91 L354.86,237.95 L355.61,237.98 L356.35,238.02 L357.10,238.05 L357.85,238.09 L358.60,238.12 L359.34,238.16 L360.09,238.19 L360.84,238.23 L361.59,238.26 L362.34,238.29 L363.08,238.33 L363.83,238.36 L364.58,238.40 L365.33,238.43 L366.08,238.47 L366.82,238.50 L367.57,238.53 L368.32,238.57 L369.07,238.60 L369.82,238.63 L370.56,238.67 L371.31,238.70 L372.06,238.73 L372.81,238.77 L373.56,238.80 L374.30,238.83 L375.05,238.87 L375.80,238.90 L376.55,238.93 L377.30,238.97 L378.04,239.00 L378.79,239.03 L379.54,239.06 L380.29,239.10 L381.04,239.13 L381.78,239.16 L382.53,239.19 L383.28,239.23 L384.03,239.26 L384.78,239.29 L385.52,239.32 L386.27,239.35 L387.02,239.39 L387.77,239.42 L388.52,239.45 L389.26,239.48 L390.01,239.51 L390.76,239.54 L391.51,239.58 L392.26,239.61 L393.00,239.64 L393.75,239.67 L394.50,239.70" stroke="#ff00ff" stroke-width="2.0" stroke-dasharray="2.8 2.7 0.8 2.7 0.8 2.7" stroke-dashoffset="7.92"/>
<path d="M44.00,254.30 L44.74,254.30 L45.48,254.30 L46.21,254.30 L46.93,254.30 L47.65,254.30 L48.37,254.30 L49.07,254.30 L49.78,254.30 L50.47,254.30 L51.17,254.30 L51.86,254.30 L52.54,254.30 L53.23,254.30 L53.91,254.30 L54.58,254.30 L55.25,254.28 L55.92,254.06 L56.57,253.73 L57.20,253.40 L57.79,253.00 L58.36,252.54 L58.92,252.09 L59.51,251.71 L60.13,251.46 L60.78,251.26 L61.46,251.08 L62.15,250.92 L62.86,250.78 L63.57,250.68 L64.28,250.61 L64.98,250.60 L65.68,250.60 L66.38,250.60 L67.08,250.60 L67.78,250.61 L68.48,250.61 L69.19,250.61 L69.89,250.62 L70.59,250.62 L71.30,250.63 L72.01,250.63 L72.71,250.64 L73.42,250.64 L74.12,250.65 L74.83,250.65 L75.54,250.66 L76.24,250.67 L76.95,250.67 L77.65,250.68 L78.36,250.69 L79.07,250.69 L79.77,250.70 L80.47,250.70 L81.18,250.71 L81.88,250.72 L82.59,250.72 L83.29,250.73 L83.99,250.74 L84.70,250.74 L85.40,250.75 L86.11,250.76 L86.81,250.77 L87.51,250.78 L88.22,250.78 L88.92,250.79 L89.63,250.80 L90.33,250.81 L91.04,250.82 L91.74,250.83 L92.44,250.84 L93.15,250.85 L93.85,250.86 L94.56,250.87 L95.26,250.87 L95.96,250.88 L96.67,250.89 L97.37,250.90 L98.08,250.91 L98.78,250.92 L99.48,250.93 L100.19,250.94 L100.89,250.95 L101.60,250.96 L102.30,250.97 L103.00,250.98 L103.71,250.99 L104.41,251.00 L105.12,251.01 L105.82,251.02 L106.52,251.03 L107.23,251.03 L107.93,251.04 L108.64,251.05 L109.34,251.06 L110.04,251.07 L110.75,251.08 L111.45,251.08 L112.16,251.09 L112.86,251.10 L113.56,251.11 L114.27,251.11 L114.97,251.12 L115.68,251.13 L116.38,251.13 L117.09,251.14 L117.79,251.15 L118.49,251.16 L119.20,251.16 L119.90,251.17 L120.61,251.18 L121.31,251.18 L122.01,251.19 L122.72,251.20 L123.42,251.20 L124.13,251.21 L124.83,251.22 L125.53,251.22 L126.24,251.23 L126.94,251.24 L127.65,251.24 L128.35,251.25 L129.05,251.26 L129.76,251.26 L130.46,251.27 L131.17,251.28 L131.87,251.28 L132.58,251.29 L133.28,251.30 L133.98,251.30 L134.69,251.31 L135.39,251.32 L136.10,251.32 L136.80,251.33 L137.50,251.34 L138.21,251.34 L138.91,251.35 L139.62,251.35 L140.32,251.36 L141.02,251.37 L141.73,251.37 L142.43,251.38 L143.14,251.39 L143.84,251.39 L144.54,251.40 L145.25,251.40 L145.95,251.41 L146.66,251.42 L147.36,251.42 L148.06,251.43 L148.77,251.43 L149.47,251.44 L150.18,251.44 L150.88,251.45 L151.59,251.46 L152.29,251.46 L152.99,251.47 L153.70,251.47 L154.40,251.48 L155.11,251.49 L155.81,251.49 L156.51,251.50 L157.22,251.50 L157.92,251.51 L158.63,251.51 L159.33,251.52 L160.03,251.52 L160.74,251.53 L161.44,251.54 L162.15,251.54 L162.85,251.55 L163.55,251.55 L164.26,251.56 L164.96,251.56 L165.67,251.57 L166.37,251.57 L167.08,251.58 L167.78,251.58 L168.48,251.59 L169.19,251.59 L169.89,251.60 L170.60,251.60 L171.30,251.61 L172.00,251.61 L172.71,251.62 L173.41,251.62 L174.12,251.63 L174.82,251.64 L175.52,251.64 L176.23,251.65 L176.93,251.65 L177.64,251.66 L178.34,251.66 L179.04,251.67 L179.75,251.67 L180.45,251.68 L181.16,251.68 L181.86,251.69 L182.57,251.69 L183.27,251.69 L183.97,251.70 L184.68,251.70 L185.38,251.71 L186.09,251.71 L186.79,251.72 L187.49,251.72 L188.20,251.73 L188.90,251.73 L189.61,251.74 L190.31,251.74 L191.01,251.75 L191.72,251.75 L192.42,251.76 L193.13,251.76 L193.83,251.77 L194.53,251.77 L195.24,251.78 L195.94,251.78 L196.65,251.79 L197.35,251.79 L198.06,251.79 L198.76,251.80 L199.46,251.80 L200.17,251.81 L200.87,251.81 L201.58,251.82 L202.28,251.82 L202.98,251.83 L203.69,251.83 L204.39,251.84 L205.10,251.84 L205.80,251.84 L206.50,251.85 L207.21,251.85 L207.91,251.86 L208.62,251.86 L209.32,251.87 L210.03,251.87 L210.73,251.88 L211.43,251.88 L212.14,251.88 L212.84,251.89 L213.55,251.89 L214.25,251.90 L214.95,251.90 L215.66,251.91 L216.36,251.91 L217.07,251.91 L217.77,251.92 L218.47,251.92 L219.18,251.93 L219.88,251.93 L220.59,251.93 L221.29,251.94 L221.99,251.94 L222.70,251.95 L223.40,251.95 L224.11,251.96 L224.81,251.96 L225.52,251.96 L226.22,251.97 L226.92,251.97 L227.63,251.98 L228.33,251.98 L229.04,251.98 L229.74,251.99 L230.44,251.99 L231.15,252.00 L231.85,252.00 L232.56,252.00 L233.26,252.01 L233.96,252.01 L234.67,252.02 L235.37,252.02 L236.08,252.02 L236.78,252.03 L237.48,252.03 L238.19,252.04 L238.89,252.04 L239.60,252.04 L240.30,252.05 L241.01,252.05 L241.71,252.06 L242.41,252.06 L243.12,252.06 L243.82,252.07 L244.53,252.07 L245.23,252.07 L245.93,252.08 L246.64,252.08 L247.34,252.09 L248.05,252.09 L248.75,252.09 L249.45,252.10 L250.16,252.10 L250.86,252.10 L251.57,252.11 L252.27,252.11 L252.98,252.12 L253.68,252.12 L254.38,252.12 L255.09,252.13 L255.79,252.13 L256.50,252.13 L257.20,252.14 L257.90,252.14 L258.61,252.15 L259.31,252.15 L260.02,252.15 L260.72,252.16 L261.42,252.16 L262.13,252.16 L262.83,252.17 L263.54,252.17 L264.24,252.17 L264.94,252.18 L265.65,252.18 L266.35,252.19 L267.06,252.19 L267.76,252.19 L268.47,252.20 L269.17,252.20 L269.87,252.20 L270.58,252.21 L271.28,252.21 L271.99,252.21 L272.69,252.22 L273.39,252.22 L274.10,252.23 L274.80,252.23 L275.51,252.23 L276.21,252.24 L276.91,252.24 L277.62,252.24 L278.32,252.25 L279.03,252.25 L279.73,252.25 L280.43,252.26 L281.14,252.26 L281.84,252.26 L282.55,252.27 L283.25,252.27 L283.96,252.27 L284.66,252.28 L285.36,252.28 L286.07,252.29 L286.77,252.29 L287.48,252.29 L288.18,252.30 L288.88,252.30 L289.59,252.30 L290.29,252.31 L291.00,252.31 L291.70,252.31 L292.40,252.32 L293.11,252.32 L293.81,252.32 L294.52,252.33 L295.22,252.33 L295.93,252.33 L296.63,252.34 L297.33,252.34 L298.04,252.34 L298.74,252.35 L299.45,252.35 L300.15,252.35 L300.85,252.36 L301.56,252.36 L302.26,252.36 L302.97,252.37 L303.67,252.37 L304.37,252.37 L305.08,252.38 L305.78,252.38 L306.49,252.38 L307.19,252.39 L307.89,252.39 L308.60,252.39 L309.30,252.40 L310.01,252.40 L310.71,252.40 L311.42,252.41 L312.12,252.41 L312.82,252.41 L313.53,252.42 L314.23,252.42 L314.94,252.42 L315.64,252.42 L316.34,252.43 L317.05,252.43 L317.75,252.43 L318.46,252.44 L319.16,252.44 L319.86,252.44 L320.57,252.45 L321.27,252.45 L321.98,252.45 L322.68,252.46 L323.39,252.46 L324.09,252.46 L324.79,252.46 L325.50,252.47 L326.20,252.47 L326.91,252.47 L327.61,252.48 L328.31,252.48 L329.02,252.48 L329.72,252.49 L330.43,252.49 L331.13,252.49 L331.83,252.49 L332.54,252.50 L333.24,252.50 L333.95,252.50 L334.65,252.51 L335.36,252.51 L336.06,252.51 L336.76,252.51 L337.47,252.52 L338.17,252.52 L338.88,252.52 L339.58,252.52 L340.28,252.53 L340.99,252.53 L341.69,252.53 L342.40,252.54 L343.10,252.54 L343.80,252.54 L344.51,252.54 L345.21,252.55 L345.92,252.55 L346.62,252.55 L347.32,252.55 L348.03,252.56 L348.73,252.56 L349.44,252.56 L350.14,252.57 L350.85,252.57 L351.55,252.57 L352.25,252.57 L352.96,252.58 L353.66,252.58 L354.37,252.58 L355.07,252.58 L355.77,252.59 L356.48,252.59 L357.18,252.59 L357.89,252.59 L358.59,252.60 L359.29,252.60 L360.00,252.60 L360.70,252.60 L361.41,252.60 L362.11,252.61 L362.82,252.61 L363.52,252.61 L364.22,252.61 L364.93,252.62 L365.63,252.62 L366.34,252.62 L367.04,252.62 L367.74,252.63 L368.45,252.63 L369.15,252.63 L369.86,252.63 L370.56,252.63 L371.26,252.64 L371.97,252.64 L372.67,252.64 L373.38,252.64 L374.08,252.64 L374.78,252.65 L375.49,252.65 L376.19,252.65 L376.90,252.65 L377.60,252.65 L378.31,252.66 L379.01,252.66 L379.71,252.66 L380.42,252.66 L381.12,252.66 L381.83,252.67 L382.53,252.67 L383.23,252.67 L383.94,252.67 L384.64,252.67 L385.35,252.68 L386.05,252.68 L386.75,252.68 L387.46,252.68 L388.16,252.68 L388.87,252.69 L389.57,252.69 L390.28,252.69 L390.98,252.69 L391.68,252.69 L392.39,252.69 L393.09,252.70 L393.80,252.70 L394.50,252.70" stroke="#00aeef" stroke-width="2.15" stroke-dasharray="4.2 3.0" stroke-dashoffset="6.00"/>
<path d="M44.55,254.30 L45.65,254.30 L46.75,254.30 L47.85,254.30 L48.95,254.30 L50.05,254.30 L51.15,254.30 L52.25,254.30 L53.35,254.30 L54.45,254.30 L55.55,254.30 L56.65,254.30 L57.75,254.30 L58.85,254.30 L59.95,254.30 L61.04,254.30 L62.14,254.30 L63.24,254.30 L64.34,254.30 L65.34,254.30 M69.37,254.02 L70.41,253.86 L71.44,253.54 L72.44,253.10 L73.44,252.62 L74.43,252.16 L75.41,251.72 L76.38,251.28 L77.34,250.81 L78.30,250.32 L79.24,249.82 L80.18,249.31 L80.18,249.31 M84.17,246.81 L85.08,246.18 L85.98,245.56 L86.88,244.94 L87.79,244.32 L88.69,243.70 L89.59,243.08 L90.49,242.45 L91.39,241.83 L92.29,241.21 L93.20,240.58 L94.10,239.96 L94.93,239.39 M97.41,237.68 L98.30,237.05 L99.20,236.42 L100.10,235.79 L100.99,235.17 L101.88,234.55 L102.76,233.92 L103.65,233.29 L104.53,232.66 L105.41,232.03 L106.29,231.39 L107.17,230.76 L108.06,230.13 L108.28,229.98 M111.32,227.87 L112.21,227.31 L113.10,226.74 L113.99,226.17 L114.88,225.61 L115.78,225.05 L116.68,224.50 L117.59,223.96 L118.50,223.44 L119.42,222.93 L120.35,222.43 L121.29,221.95 L122.15,221.50 M124.21,220.37 L125.17,219.85 L126.14,219.35 L127.11,218.85 L128.08,218.37 L129.06,217.89 L130.04,217.42 L131.02,216.96 L132.01,216.51 L133.00,216.08 L134.00,215.65 L135.00,215.24 L135.08,215.20 M138.45,213.75 L139.47,213.33 L140.49,212.91 L141.52,212.51 L142.55,212.10 L143.58,211.70 L144.61,211.31 L145.64,210.92 L146.68,210.53 L147.71,210.14 L148.74,209.75 L149.26,209.56 M152.53,208.34 L153.56,207.95 L154.60,207.57 L155.63,207.19 L156.67,206.82 L157.71,206.44 L158.75,206.07 L159.79,205.71 L160.83,205.35 L161.87,205.01 L162.92,204.67 L163.35,204.53 M166.76,203.48 L167.82,203.17 L168.87,202.87 L169.93,202.56 L170.99,202.27 L172.05,201.97 L173.11,201.68 L174.17,201.40 L175.24,201.12 L176.30,200.84 L177.37,200.57 L177.55,200.53 M181.47,199.58 L182.54,199.31 L183.62,199.05 L184.69,198.79 L185.77,198.54 L186.84,198.30 L187.92,198.05 L189.00,197.82 L190.09,197.58 L191.17,197.35 L192.25,197.13 L192.25,197.13 M196.14,196.35 L197.22,196.14 L198.31,195.92 L199.39,195.72 L200.48,195.51 L201.56,195.31 L202.65,195.11 L203.74,194.91 L204.82,194.71 L205.91,194.52 L207.00,194.33 L207.00,194.33 M210.81,193.67 L211.90,193.49 L212.99,193.32 L214.08,193.14 L215.17,192.97 L216.26,192.81 L217.35,192.65 L218.44,192.49 L219.53,192.34 L220.62,192.18 L221.62,192.03 M225.54,191.48 L226.64,191.33 L227.73,191.17 L228.83,191.02 L229.92,190.87 L231.02,190.72 L232.11,190.56 L233.20,190.41 L234.30,190.25 L235.39,190.08 L236.39,189.94 M240.03,189.50 L241.12,189.36 L242.21,189.22 L243.30,189.08 L244.40,188.93 L245.49,188.79 L246.58,188.65 L247.67,188.50 L248.76,188.36 L249.85,188.21 L250.85,188.09 M254.31,187.70 L255.40,187.58 L256.49,187.46 L257.58,187.34 L258.67,187.22 L259.76,187.10 L260.86,186.99 L261.95,186.88 L263.04,186.77 L264.13,186.66 L265.13,186.56 M268.14,186.29 L269.23,186.19 L270.32,186.10 L271.42,186.00 L272.51,185.90 L273.61,185.81 L274.70,185.71 L275.80,185.62 L276.89,185.53 L277.99,185.44 L278.99,185.36 M282.83,185.06 L283.92,184.98 L285.02,184.90 L286.12,184.82 L287.21,184.74 L288.31,184.66 L289.41,184.59 L290.50,184.51 L291.60,184.44 L292.70,184.36 L293.61,184.30 M297.54,184.04 L298.64,183.97 L299.74,183.90 L300.83,183.83 L301.93,183.76 L303.03,183.69 L304.13,183.62 L305.22,183.55 L306.32,183.48 L307.42,183.41 L308.33,183.36 M311.99,183.13 L313.09,183.06 L314.19,182.99 L315.28,182.92 L316.38,182.85 L317.48,182.78 L318.57,182.71 L319.67,182.64 L320.77,182.57 L321.86,182.50 L322.78,182.44 M326.25,182.22 L327.35,182.15 L328.45,182.08 L329.54,182.02 L330.64,181.95 L331.74,181.88 L332.84,181.81 L333.93,181.74 L335.03,181.68 L336.13,181.61 L337.04,181.56 M340.42,181.36 L341.52,181.29 L342.62,181.22 L343.72,181.16 L344.81,181.09 L345.91,181.03 L347.01,180.97 L348.11,180.90 L349.20,180.84 L350.30,180.78 L351.22,180.73 M354.42,180.55 L355.52,180.50 L356.61,180.44 L357.71,180.38 L358.81,180.32 L359.91,180.27 L361.00,180.21 L362.10,180.16 L363.20,180.10 L364.30,180.05 L365.21,180.00 M368.69,179.83 L369.79,179.78 L370.89,179.72 L371.98,179.67 L373.08,179.62 L374.18,179.57 L375.28,179.52 L376.38,179.47 L377.48,179.42 L378.57,179.37 L379.49,179.33 M382.87,179.18 L383.97,179.13 L385.07,179.08 L386.17,179.04 L387.27,178.99 L388.37,178.95 L389.47,178.90 L390.56,178.86 L391.66,178.81 L392.76,178.77 L393.68,178.73 " stroke="#e8a512" stroke-width="2.0"/>
</g>
<path d="M102.0,38.4 H129.9" fill="none" stroke="#000000" stroke-width="1.9"/>
<path d="M102.0,54.5 H129.9" fill="none" stroke="#ff0000" stroke-width="2.0" stroke-dasharray="2.3 2.28" stroke-dashoffset="1.15"/>
<path d="M102.0,70.6 H129.9" fill="none" stroke="#0000ff" stroke-width="2.0" stroke-dasharray="3.4 2.6 0.9 2.6" stroke-dashoffset="1.7"/>
<path d="M253.0,35.9 H280.9" fill="none" stroke="#009e49" stroke-width="2.0" stroke-dasharray="0.8 1.49" stroke-dashoffset="0.4"/>
<path d="M253.0,52.5 H280.9" fill="none" stroke="#ff00ff" stroke-width="2.0" stroke-dasharray="2.9 1.63 0.75 1.63 0.75 1.63" stroke-dashoffset="1.45"/>
<path d="M253.0,69.0 H280.9" fill="none" stroke="#00aeef" stroke-width="2.15" stroke-dasharray="4.05 2.92" stroke-dashoffset="2.05"/>
<path d="M253.0,85.5 H280.9" fill="none" stroke="#e8a512" stroke-width="2.0" stroke-dasharray="10.1 3.0" stroke-dashoffset="4.2"/>
<g>
<text x="43.60" y="268.3" font-size="14.5" text-anchor="middle">0</text>
<text x="78.80" y="268.3" font-size="14.5" text-anchor="middle">1</text>
<text x="114.00" y="268.3" font-size="14.5" text-anchor="middle">2</text>
<text x="149.20" y="268.3" font-size="14.5" text-anchor="middle">3</text>
<text x="184.40" y="268.3" font-size="14.5" text-anchor="middle">4</text>
<text x="219.60" y="268.3" font-size="14.5" text-anchor="middle">5</text>
<text x="254.80" y="268.3" font-size="14.5" text-anchor="middle">6</text>
<text x="290.00" y="268.3" font-size="14.5" text-anchor="middle">7</text>
<text x="325.20" y="268.3" font-size="14.5" text-anchor="middle">8</text>
<text x="360.40" y="268.3" font-size="14.5" text-anchor="middle">9</text>
<text x="395.60" y="268.3" font-size="14.5" text-anchor="middle">10</text>
<text x="39.0" y="259.45" font-size="14.5" text-anchor="end">0</text>
<text x="39.0" y="233.31" font-size="14.5" text-anchor="end">2</text>
<text x="39.0" y="207.16" font-size="14.5" text-anchor="end">4</text>
<text x="39.0" y="181.02" font-size="14.5" text-anchor="end">6</text>
<text x="39.0" y="154.87" font-size="14.5" text-anchor="end">8</text>
<text x="40.3" y="128.73" font-size="14.5" text-anchor="end">10</text>
<text x="40.3" y="102.58" font-size="14.5" text-anchor="end">12</text>
<text x="40.3" y="76.44" font-size="14.5" text-anchor="end">14</text>
<text x="40.3" y="50.29" font-size="14.5" text-anchor="end">16</text>
<text x="40.3" y="24.15" font-size="14.5" text-anchor="end">18</text>
<text x="43.0" y="16.5" font-size="14.5">×10<tspan font-size="11" dy="-6.6" dx="-1.1">-39</tspan></text>
<text x="401.2" y="283.5" font-size="17.3" text-anchor="end">E<tspan font-size="12.5" dy="4.5">ν</tspan><tspan dy="-4.5" dx="1"> (GeV)</tspan></text>
<text transform="translate(15.3,16.0) rotate(-90)" font-size="17.3" text-anchor="end"><tspan font-size="18.5" dy="1.3">σ</tspan><tspan dx="0.6" dy="-1.3"> / E</tspan><tspan font-size="13.5" dy="4.5">ν</tspan><tspan dy="-4.5" dx="3.2"> (cm</tspan><tspan font-size="12" dy="-6">2</tspan><tspan dy="6" dx="-0.6"> / GeV)</tspan></text>
<text x="136.8" y="43.70" font-size="16.2">Total (CC+NC)</text>
<text x="136.8" y="59.80" font-size="16.2">CC total</text>
<text x="136.8" y="75.90" font-size="16.2">NC total</text>
<text x="286.6" y="40.75" font-size="16.4">CCQE</text>
<text x="286.6" y="57.35" font-size="16.4">CC resonant <tspan font-size="17.5" dx="1.5">π</tspan></text>
<text x="286.6" y="73.85" font-size="16.4">CC coherent <tspan font-size="17.5" dx="1.5">π</tspan></text>
<text x="286.6" y="90.35" font-size="16.4">CC DIS</text>
</g>
</svg></body></html>
